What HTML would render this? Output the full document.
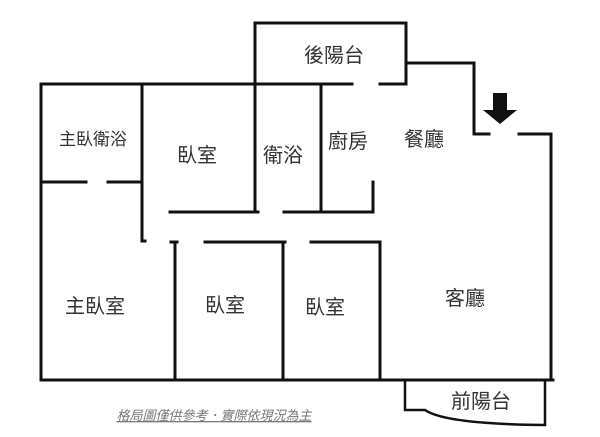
<!DOCTYPE html>
<html><head><meta charset="utf-8"><style>
html,body{margin:0;padding:0;background:#fff;width:600px;height:437px;overflow:hidden}
svg text{font-family:"Liberation Sans","Noto Sans CJK TC",sans-serif;fill:#333}
</style></head><body>
<svg width="600" height="437" viewBox="0 0 600 437" xmlns="http://www.w3.org/2000/svg">
<g stroke="#111" stroke-width="3" fill="none" stroke-linecap="square">
<polyline points="255,84 255,23 406,23 406,84"/>
<polyline points="406,63 474,63 474,134 489,134"/>
<polyline points="519,134 551,134 551,380"/>
<line x1="41" y1="84" x2="352" y2="84"/>
<line x1="380" y1="84" x2="406" y2="84"/>
<line x1="41" y1="84" x2="41" y2="380"/>
<line x1="142" y1="84" x2="142" y2="241"/>
<line x1="41" y1="182" x2="86" y2="182"/>
<line x1="108" y1="182" x2="141" y2="182"/>
<line x1="255" y1="84" x2="255" y2="212"/>
<line x1="321" y1="84" x2="321" y2="212"/>
<line x1="170" y1="212" x2="258" y2="212"/>
<line x1="284" y1="212" x2="373" y2="212"/>
<line x1="373" y1="182" x2="373" y2="212"/>
<line x1="142" y1="241" x2="145" y2="241"/>
<line x1="171" y1="242" x2="177" y2="242"/>
<line x1="205" y1="242" x2="285" y2="242"/>
<line x1="311" y1="242" x2="380" y2="242"/>
<line x1="175" y1="242" x2="175" y2="380"/>
<line x1="283" y1="242" x2="283" y2="380"/>
<line x1="380" y1="242" x2="380" y2="380"/>
<line x1="41" y1="380" x2="553" y2="380"/>
<path d="M405,381 L405,410 L425,410 Q445,424 545,425 L545,381" stroke-width="2.5"/>
</g>
<polygon points="493,93 507,93 507,110 517,110 500,124 483,110 493,110" fill="#111"/>
<g font-size="20" text-anchor="middle">
<text x="334" y="62">後陽台</text>
<text x="93" y="145" font-size="17">主臥衛浴</text>
<text x="197" y="162">臥室</text>
<text x="283" y="162">衛浴</text>
<text x="348" y="148">廚房</text>
<text x="424" y="146">餐廳</text>
<text x="95" y="313">主臥室</text>
<text x="225" y="312">臥室</text>
<text x="325" y="314">臥室</text>
<text x="465" y="305">客廳</text>
<text x="481" y="408">前陽台</text>
</g>
<text x="214" y="420" font-size="13" font-style="italic" text-anchor="middle" style="fill:#777" text-decoration="underline">格局圖僅供參考．實際依現況為主</text>
</svg>
</body></html>
